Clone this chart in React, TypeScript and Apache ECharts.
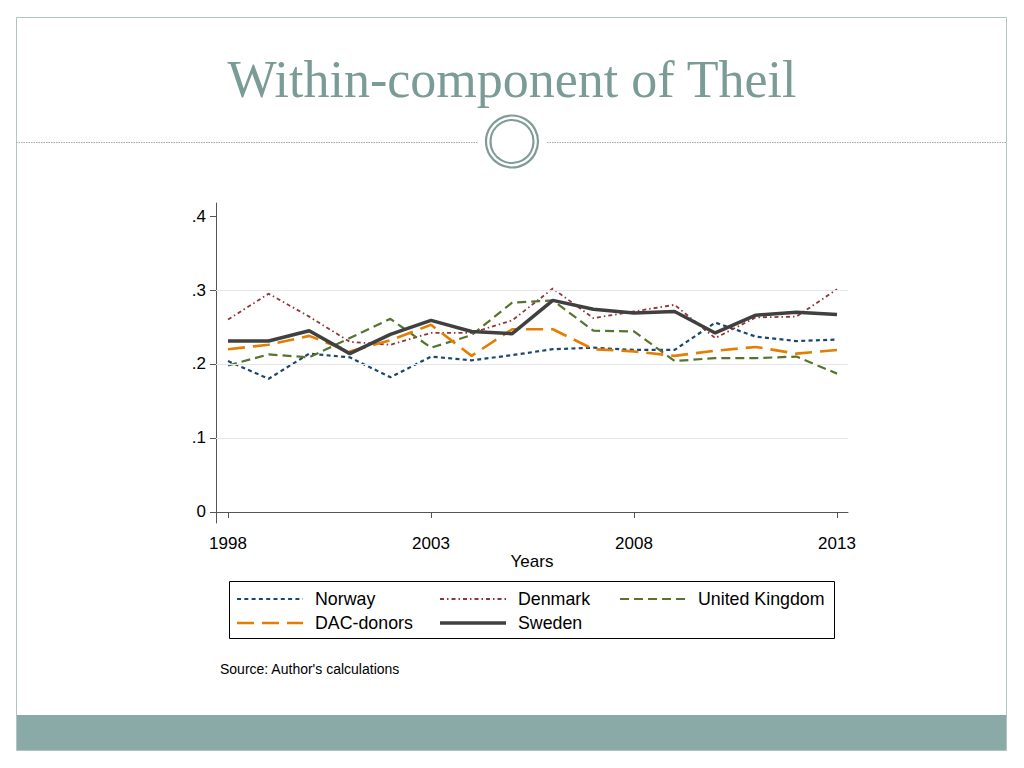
import React, { useEffect, useRef } from "react";
import * as echarts from "echarts";

const years = [1998, 1999, 2000, 2001, 2002, 2003, 2004, 2005, 2006, 2007, 2008, 2009, 2010, 2011, 2012, 2013];
const norway = [0.204, 0.18, 0.214, 0.209, 0.182, 0.21, 0.205, 0.212, 0.22, 0.222, 0.219, 0.219, 0.256, 0.237, 0.231, 0.233];
const denmark = [0.26, 0.295, 0.264, 0.23, 0.226, 0.242, 0.242, 0.259, 0.302, 0.262, 0.271, 0.28, 0.235, 0.263, 0.264, 0.301];
const unitedKingdom = [0.198, 0.213, 0.209, 0.235, 0.261, 0.222, 0.239, 0.283, 0.286, 0.245, 0.244, 0.204, 0.208, 0.208, 0.21, 0.187];
const dacDonors = [0.22, 0.226, 0.238, 0.217, 0.232, 0.253, 0.211, 0.247, 0.247, 0.22, 0.217, 0.211, 0.218, 0.223, 0.214, 0.219];
const sweden = [0.231, 0.231, 0.245, 0.214, 0.24, 0.259, 0.244, 0.241, 0.286, 0.274, 0.269, 0.271, 0.242, 0.266, 0.27, 0.267];

const xTicks = [1998, 2003, 2008, 2013];
const yTicks = [0, 0.1, 0.2, 0.3, 0.4];
const gridValues = [0.1, 0.2, 0.3];

const FONT = "Liberation Sans, Arial, Helvetica, sans-serif";

const seriesDefs = [
  { name: "Norway", data: norway, color: "#1a476f", width: 2.2, dash: [4, 3.3] as any, col: 0, row: 0 },
  { name: "Denmark", data: denmark, color: "#90353b", width: 1.8, dash: [4, 3, 1.5, 3] as any, col: 1, row: 0 },
  { name: "United Kingdom", data: unitedKingdom, color: "#55752f", width: 2.2, dash: [9, 5] as any, col: 2, row: 0 },
  { name: "DAC-donors", data: dacDonors, color: "#e37e00", width: 2.6, dash: [17, 8] as any, col: 0, row: 1 },
  { name: "Sweden", data: sweden, color: "#404040", width: 3.5, dash: "solid" as any, col: 1, row: 1 },
];

export default function App() {
  const ref = useRef<HTMLDivElement>(null);
  useEffect(() => {
    if (!ref.current) return;
    const chart = echarts.init(ref.current, null, { renderer: "svg" });

    const legendCols = [237, 440, 620];
    const legendRows = [599, 623];
    const legendGraphics: any[] = [];
    seriesDefs.forEach((s) => {
      const x = legendCols[s.col];
      const y = legendRows[s.row];
      legendGraphics.push({
        type: "line",
        shape: { x1: x, y1: y, x2: x + 66, y2: y },
        style: {
          stroke: s.color,
          lineWidth: s.width,
          lineDash: s.dash === "solid" ? null : s.dash,
        },
      });
      legendGraphics.push({
        type: "text",
        x: x + 78,
        y: y,
        style: {
          text: s.name,
          font: `17.8px ${FONT}`,
          fill: "#000",
          verticalAlign: "middle",
          align: "left",
        },
      });
    });

    const option: any = {
      animation: false,
      backgroundColor: "#ffffff",
      grid: { left: 216, top: 203, width: 632, height: 320, containLabel: false },
      xAxis: {
        type: "value",
        min: 1997.704,
        max: 2013.271,
        name: "Years",
        nameLocation: "middle",
        nameGap: 30,
        nameTextStyle: { color: "#000", fontSize: 17, fontFamily: FONT },
        axisLine: { show: true, lineStyle: { color: "#555", width: 1 } },
        axisTick: { show: true, length: 6, customValues: xTicks, lineStyle: { color: "#555" } },
        axisLabel: {
          customValues: xTicks,
          color: "#000",
          fontSize: 17,
          fontFamily: FONT,
          margin: 12,
          formatter: (v: number) => String(v),
        },
        splitLine: { show: false },
      },
      yAxis: {
        type: "value",
        min: -0.0149,
        max: 0.4176,
        axisLine: { show: true, lineStyle: { color: "#555", width: 1 } },
        axisTick: { show: true, length: 6, customValues: yTicks, lineStyle: { color: "#555" } },
        axisLabel: {
          customValues: yTicks,
          color: "#000",
          fontSize: 17,
          fontFamily: FONT,
          margin: 10,
          formatter: (v: number) => (Math.abs(v) < 1e-9 ? "0" : v.toFixed(1).replace(/^0/, "")),
        },
        splitLine: { show: false },
      },
      series: [
        {
          type: "line",
          name: "grid",
          data: [],
          z: 1,
          silent: true,
          markLine: {
            silent: true,
            symbol: "none",
            label: { show: false },
            lineStyle: { color: "#e6e6e6", width: 1, type: "solid" },
            data: gridValues.map((v) => ({ yAxis: v })),
          },
        },
        ...seriesDefs.map((s) => ({
          type: "line",
          name: s.name,
          data: years.map((yr, i) => [yr, s.data[i]]),
          showSymbol: false,
          symbol: "none",
          z: 2,
          lineStyle: { color: s.color, width: s.width, type: s.dash },
          itemStyle: { color: s.color },
        })),
      ],
      graphic: [
        {
          type: "rect",
          shape: { x: 16.5, y: 17.5, width: 990, height: 733 },
          style: { fill: "none", stroke: "#b3c5c2", lineWidth: 1 },
          z: 0,
        },
        {
          type: "rect",
          shape: { x: 17, y: 715, width: 989, height: 35 },
          style: { fill: "#8aaaa8" },
        },
        {
          type: "text",
          x: 512,
          y: 79,
          style: {
            text: "Within-component of Theil",
            font: "52px Liberation Serif, Times New Roman, serif",
            fill: "#7b9b97",
            align: "center",
            verticalAlign: "middle",
          },
        },
        {
          type: "line",
          shape: { x1: 16, y1: 142.5, x2: 478, y2: 142.5 },
          style: { stroke: "#a8a8a8", lineWidth: 1, lineDash: [1.5, 1] },
        },
        {
          type: "line",
          shape: { x1: 547, y1: 142.5, x2: 1006, y2: 142.5 },
          style: { stroke: "#a8a8a8", lineWidth: 1, lineDash: [1.5, 1] },
        },
        {
          type: "circle",
          shape: { cx: 512, cy: 141.5, r: 26 },
          style: { fill: "#fff", stroke: "#7f9c98", lineWidth: 2.2 },
        },
        {
          type: "circle",
          shape: { cx: 512, cy: 141.5, r: 21.5 },
          style: { fill: "none", stroke: "#7f9c98", lineWidth: 2.2 },
        },
        {
          type: "rect",
          shape: { x: 229.5, y: 581.5, width: 605, height: 57 },
          style: { fill: "none", stroke: "#000", lineWidth: 1 },
        },
        ...legendGraphics,
        {
          type: "text",
          x: 220,
          y: 669,
          style: {
            text: "Source: Author's calculations",
            font: `14px ${FONT}`,
            fill: "#000",
            align: "left",
            verticalAlign: "middle",
          },
        },
      ],
    };
    chart.setOption(option);
    return () => chart.dispose();
  }, []);
  return (
    <div
      ref={ref}
      style={{ position: "absolute", left: 0, top: 0, width: 1024, height: 768 }}
    />
  );
}
